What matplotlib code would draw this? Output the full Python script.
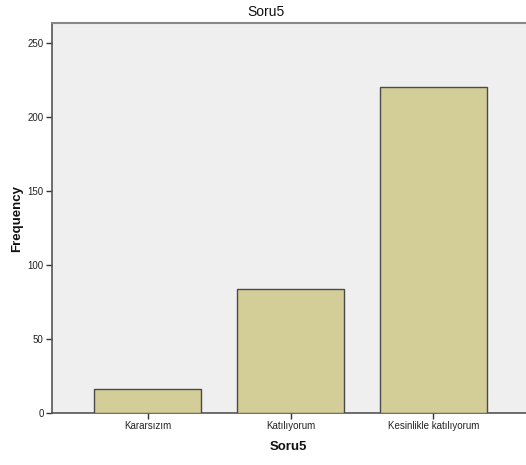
import matplotlib
matplotlib.use("Agg")
import matplotlib.pyplot as plt

categories = ["Kararsızım", "Katılıyorum", "Kesinlikle katılıyorum"]
frequencies = [16, 84, 220]
y_ticks = [0, 50, 100, 150, 200, 250]

plt.rcParams['font.family'] = ['Liberation Sans', 'DejaVu Sans']

fig = plt.figure(figsize=(5.26, 4.65), dpi=100)
ax = fig.add_axes([52/526, 52/465, 474/526, 390/465])
ax.set_facecolor('#EFEFEF')

x = list(range(len(categories)))
ax.bar(x, frequencies, width=0.748, color='#D3CE97', edgecolor='#4a4a4a', linewidth=1.0, zorder=3)

ax.set_xlim(-0.668, 2.647)
ax.set_ylim(0, 263.5)
ax.set_yticks(y_ticks)
ax.set_xticks(x)
ax.set_xticklabels(categories)
ax.tick_params(axis='both', labelsize=7, length=4, width=1, color='#333333', labelcolor='#222222', direction='out', pad=2)

ax.spines['right'].set_visible(False)
ax.spines['top'].set_color('#888888')
ax.spines['top'].set_linewidth(1.5)
ax.spines['left'].set_color('#555555')
ax.spines['bottom'].set_color('#555555')
ax.spines['left'].set_linewidth(1.2)
ax.spines['bottom'].set_linewidth(1.2)

fig.text(266/526, 1 - 12/465, "Soru5", ha='center', va='center', fontsize=10, color='#111111')
fig.text(288/526, 1 - 447/465, "Soru5", ha='center', va='center', fontsize=9.5, fontweight='bold', color='#111111')
fig.text(17/526, 1 - 218/465, "Frequency", ha='center', va='center', rotation=90, fontsize=9.5, fontweight='bold', color='#111111')

fig.savefig("out.png", dpi=100)
